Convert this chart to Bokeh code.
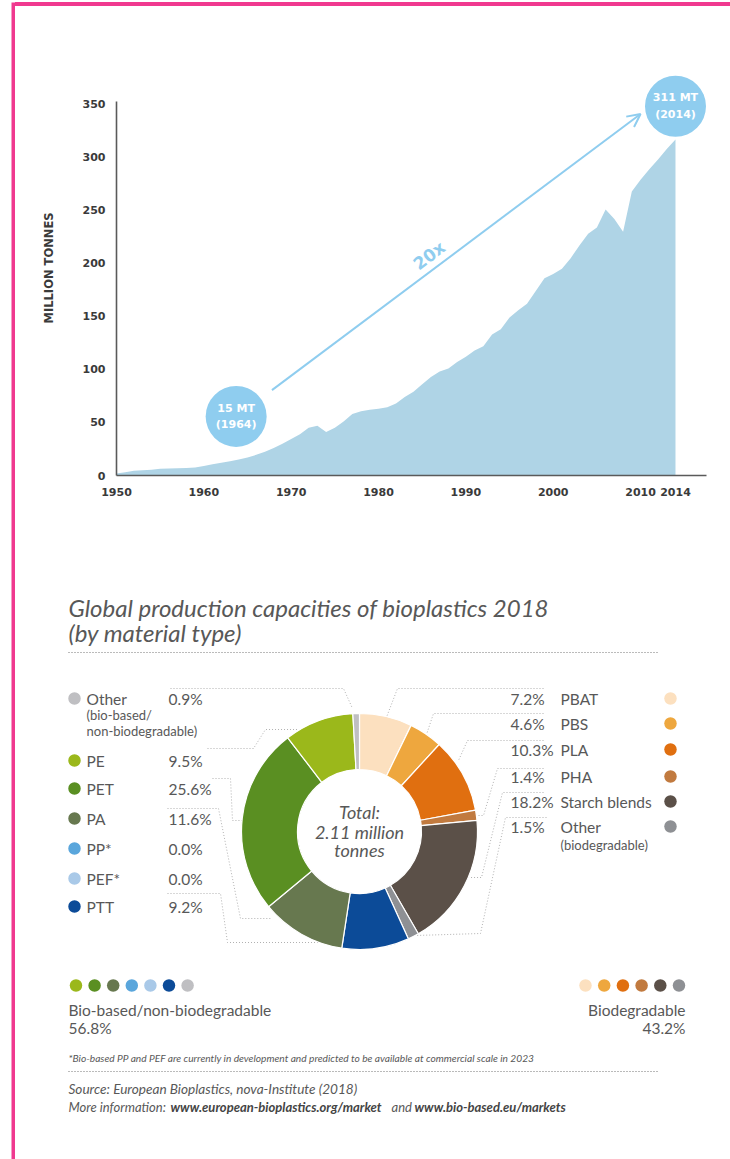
import math
from bokeh.plotting import figure
from bokeh.layouts import row, column
from bokeh.models import Range1d, FixedTicker, Arrow, OpenHead, Div
from bokeh.core.properties import value
from bokeh.embed import file_html
from bokeh.resources import INLINE

# ---------------- data: world plastics production ----------------
years = list(range(1950, 2015))
production = [2, 3, 4.5, 5, 5.5, 6.3, 6.5, 6.8, 7, 7.5,
              9, 10.5, 12, 13.5, 15, 17, 19.5, 22.5, 26, 30,
              34.5, 39, 45, 47, 41, 45, 51, 58, 60.5, 62,
              63, 64.5, 68, 74, 79, 86, 93, 98, 101, 107,
              112, 118, 122, 133, 138, 149, 156, 162, 174, 186,
              190, 195, 205, 217, 228, 234, 251, 242, 230, 268,
              279, 289, 298, 308, 317]
x_ticks = [1950, 1960, 1970, 1980, 1990, 2000, 2010, 2014]
y_ticks = [0, 50, 100, 150, 200, 250, 300, 350]
bubble_text = ["15 MT\n(1964)", "311 MT\n(2014)"]
growth_text = "20x"

# ---------------- data: bioplastics 2018 ----------------
materials = ["PBAT", "PBS", "PLA", "PHA", "Starch blends", "Other biodeg",
             "PTT", "PEF*", "PP*", "PA", "PET", "PE", "Other bio-based"]
shares = [7.2, 4.6, 10.3, 1.4, 18.2, 1.5, 9.2, 0.0, 0.0, 11.6, 25.6, 9.5, 0.9]
biodegradable = [True, True, True, True, True, True,
                 False, False, False, False, False, False, False]
colors = ["#fce0bf", "#eea73e", "#e06f10", "#c17a3f", "#5b5048", "#8e9094",
          "#0c4b98", "#a9c9e8", "#5aa6dc", "#67784f", "#5a8f22", "#9bb81b", "#bfbfc2"]
left_order = ["Other bio-based", "PE", "PET", "PA", "PP*", "PEF*", "PTT"]
left_names = ["Other", "PE", "PET", "PA", "PP*", "PEF*", "PTT"]
right_order = ["PBAT", "PBS", "PLA", "PHA", "Starch blends", "Other biodeg"]
right_names = ["PBAT", "PBS", "PLA", "PHA", "Starch blends", "Other"]
bottom_left_order = ["PE", "PET", "PA", "PP*", "PEF*", "PTT", "Other bio-based"]
bottom_right_order = ["PBAT", "PBS", "PLA", "PHA", "Starch blends", "Other biodeg"]
total_text = ["Total:", "2.11 million", "tonnes"]

PINK = "#f0398f"
AREA = "#afd4e6"
BUBBLE = "#8fcdef"
DARK = "#3a3a3a"
GRAY = "#585858"
LEAD = "#a8a8a8"

share_of = dict(zip(materials, shares))
color_of = dict(zip(materials, colors))


def bare(p):
    p.grid.visible = False
    p.outline_line_color = None
    p.background_fill_color = "white"
    p.border_fill_color = "white"


# ---------------- pink frame ----------------
left_strip = figure(width=15, height=1159, x_range=Range1d(0, 15), y_range=Range1d(0, 1159),
                    min_border=0, x_axis_location=None, y_axis_location=None,
                    output_backend="svg", toolbar_location=None)
bare(left_strip)
left_strip.quad(left=[11], right=[15], bottom=[0], top=[1157], fill_color=PINK, line_color=None)

top_strip = Div(text="", width=715, height=7, margin=0,
                styles={"background": "linear-gradient(to bottom, white 0px, white 2px, "
                                      + PINK + " 2px, " + PINK + " 6px, white 6px)",
                        "overflow": "hidden"})

# ---------------- top chart ----------------
p1 = figure(width=715, height=533, x_range=Range1d(1950, 2017.55), y_range=Range1d(0, 391.5),
            min_border_left=101, min_border_right=24, min_border_top=53, min_border_bottom=65,
            output_backend="svg", toolbar_location=None)
bare(p1)
p1.varea(x=years, y1=0, y2=production, fill_color=AREA)

for ax in (p1.xaxis[0], p1.yaxis[0]):
    ax.major_tick_line_color = None
    ax.minor_tick_line_color = None
    ax.major_tick_out = 0
    ax.major_tick_in = 0
    ax.axis_line_color = "#5a5a5a"
    ax.axis_line_width = 1.6
    ax.major_label_text_font = "DejaVu Sans"
    ax.major_label_text_font_style = "bold"
    ax.major_label_text_font_size = "11px"
    ax.major_label_text_color = DARK
p1.xaxis.ticker = FixedTicker(ticks=x_ticks)
p1.yaxis.ticker = FixedTicker(ticks=y_ticks)
p1.yaxis.bounds = (0, 353)
p1.xaxis.major_label_standoff = 12
p1.yaxis.major_label_standoff = 11
p1.yaxis.axis_label = "MILLION TONNES"
p1.yaxis.axis_label_text_font = "DejaVu Sans"
p1.yaxis.axis_label_text_font_style = "bold"
p1.yaxis.axis_label_text_font_size = "11.5px"
p1.yaxis.axis_label_text_color = DARK
p1.yaxis.axis_label_standoff = 24

p1.add_layout(Arrow(end=OpenHead(size=13, line_color=BUBBLE, line_width=2),
                    x_start=1967.8, y_start=80.5, x_end=2010.0, y_end=341.0,
                    line_color=BUBBLE, line_width=2))
p1.text(x=[1985.8], y=[207.5], text=[growth_text], angle=0.644,
        text_font=value("DejaVu Sans"), text_font_style="bold", text_font_size="17px",
        text_color=BUBBLE, text_align="center", text_baseline="middle")
p1.scatter(x=[1963.7, 2014.0], y=[55.7, 348.3], size=61, fill_color=BUBBLE, line_color=None)
p1.text(x=[1963.7, 2014.0], y=[55.7, 348.3], text=bubble_text,
        text_font=value("DejaVu Sans"), text_font_style="bold", text_font_size="11px",
        text_color="white", text_align="center", text_baseline="middle", text_line_height=1.3)

# ---------------- bottom: donut ----------------
p2 = figure(width=715, height=619, x_range=Range1d(15, 730), y_range=Range1d(0, 619),
            min_border=0, x_axis_location=None, y_axis_location=None,
            output_backend="svg", toolbar_location=None)
bare(p2)


def Y(py):
    return 1159 - py


def txt(x, y, s, size, style="normal", align="left", color=GRAY, font="Lato"):
    p2.text(x=[x], y=[Y(y)], text=[s], text_font=value(font), text_font_style=style,
            text_font_size=size, text_color=color, text_align=align, text_baseline="middle")


# title
txt(68, 607, "Global production capacities of bioplastics 2018", "24px", "italic")
txt(68, 632, "(by material type)", "24px", "italic")
p2.line(x=[68, 658], y=[Y(652), Y(652)], line_color="#777777", line_width=1.2, line_dash="1 2")

# donut wedges, clockwise from 12 o'clock
cx, cy = 359, Y(831)
starts, ends, wcols = [], [], []
cum = 0.0
for m, s in zip(materials, shares):
    a_hi = math.pi / 2 - cum / 100 * 2 * math.pi
    cum += s
    a_lo = math.pi / 2 - cum / 100 * 2 * math.pi
    if s > 0:
        starts.append(a_lo)
        ends.append(a_hi)
        wcols.append(color_of[m])

# leader lines (page coordinates)
leaders = [
    [(170, 688), (343, 688), (352, 708)],
    [(207, 748), (253, 748), (265, 729), (297, 729)],
    [(212, 778), (230, 778), (232, 820), (243, 820)],
    [(167, 808), (218, 808), (240, 918), (270, 918)],
    [(167, 893), (220, 893), (227, 942), (345, 942)],
    [(543, 688), (397, 688), (384, 722)],
    [(543, 713), (433, 713), (425, 737)],
    [(543, 740), (467, 740), (458, 760)],
    [(543, 768), (497, 768), (483, 815), (470, 815)],
    [(543, 792), (502, 792), (481, 877), (470, 877)],
    [(546, 817), (505, 817), (480, 933), (415, 935)],
]
p2.multi_line(xs=[[pt[0] for pt in l] for l in leaders],
              ys=[[Y(pt[1]) for pt in l] for l in leaders],
              line_color=LEAD, line_width=0.9, line_dash="1 2")

p2.annular_wedge(x=cx, y=cy, inner_radius=62, outer_radius=118,
                 start_angle=starts, end_angle=ends, fill_color=wcols,
                 line_color="white", line_width=1.2)

for i, s in enumerate(total_text):
    txt(359, [811, 831, 849][i], s, "18px", "italic", "center")

# left legend
left_rows = [698, 760, 788, 818, 848, 878, 906]
for m, name, yy in zip(left_order, left_names, left_rows):
    p2.scatter(x=[74], y=[Y(yy)], size=12.5, fill_color=color_of[m], line_color=None)
    txt(86, yy, name, "15.5px")
    txt(168, yy, f"{share_of[m]:.1f}%", "15.5px")
txt(86, 714, "(bio-based/", "13px")
txt(86, 730, "non-biodegradable)", "13px")

# right legend
right_rows = [698, 723, 749, 776, 801, 826]
for m, name, yy in zip(right_order, right_names, right_rows):
    p2.scatter(x=[670], y=[Y(yy)], size=12.5, fill_color=color_of[m], line_color=None)
    txt(510, yy, f"{share_of[m]:.1f}%", "15.5px")
    txt(560, yy, name, "15.5px")
txt(560, 844, "(biodegradable)", "13px")

# bottom dot rows
for i, m in enumerate(bottom_left_order):
    p2.scatter(x=[75.5 + i * 18.6], y=[Y(985)], size=12.5, fill_color=color_of[m], line_color=None)
for i, m in enumerate(bottom_right_order):
    p2.scatter(x=[585 + i * 18.7], y=[Y(985)], size=12.5, fill_color=color_of[m], line_color=None)

bio_total = sum(s for s, b in zip(shares, biodegradable) if not b)
deg_total = sum(s for s, b in zip(shares, biodegradable) if b)
txt(68, 1009, "Bio-based/non-biodegradable", "15.5px")
txt(68, 1027, f"{bio_total:.1f}%", "15.5px")
txt(685, 1009, "Biodegradable", "15.5px", align="right")
txt(685, 1027, f"{deg_total:.1f}%", "15.5px", align="right")

txt(68, 1057, "*Bio-based PP and PEF are currently in development and predicted to be available at commercial scale in 2023",
    "10.2px", "italic")
p2.line(x=[68, 658], y=[Y(1071), Y(1071)], line_color="#777777", line_width=1.2, line_dash="1 2")
txt(68, 1088, "Source: European Bioplastics, nova-Institute (2018)", "13.6px", "italic")
txt(68, 1106, "More information:", "13px", "italic")
txt(170, 1106, "www.european-bioplastics.org/market", "13px", "bold italic", color="#444444")
txt(391, 1106, "and", "13px", "italic")
txt(414, 1106, "www.bio-based.eu/markets", "13px", "bold italic", color="#444444")

layout = row(left_strip, column(top_strip, p1, column(p2)))
open("out.html", "w").write(file_html(layout, INLINE))
